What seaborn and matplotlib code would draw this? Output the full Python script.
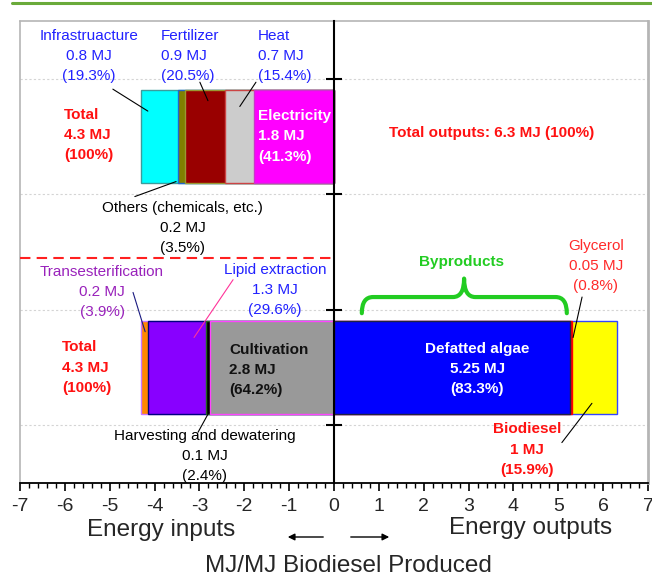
import numpy as np
import pandas as pd
import matplotlib
matplotlib.use("Agg")
import matplotlib.pyplot as plt
import seaborn as sns
from matplotlib.path import Path
from matplotlib.patches import PathPatch
from matplotlib.lines import Line2D
from matplotlib.ticker import MultipleLocator, FixedLocator
from matplotlib import font_manager

# ---------------- data ----------------
top_inputs = ["Electricity", "Heat", "Fertilizer", "Others (chemicals, etc.)", "Infrastruacture"]
top_values = [1.776, 0.662, 0.8815, 0.1505, 0.830]
top_mj = ["1.8 MJ", "0.7 MJ", "0.9 MJ", "0.2 MJ", "0.8 MJ"]
top_pcts = [41.3, 15.4, 20.5, 3.5, 19.3]

bottom_inputs = ["Cultivation", "Harvesting and dewatering", "Lipid extraction", "Transesterification"]
bottom_values = [2.76, 0.103, 1.273, 0.168]
bottom_mj = ["2.8 MJ", "0.1 MJ", "1.3 MJ", "0.2 MJ"]
bottom_pcts = [64.2, 2.4, 29.6, 3.9]

outputs = ["Defatted algae", "Glycerol", "Biodiesel"]
output_values = [5.25, 0.05, 1.0]
output_mj = ["5.25 MJ", "0.05 MJ", "1 MJ"]
output_pcts = [83.3, 0.8, 15.9]

total_input = 4.3
total_output = 6.3
x_ticks = [-7, -6, -5, -4, -3, -2, -1, 0, 1, 2, 3, 4, 5, 6, 7]

# ---------------- style ----------------
sns.set_theme(style="white")
names = {f.name for f in font_manager.fontManager.ttflist}
NARROW = "Liberation Sans Narrow" in names
plt.rcParams["font.family"] = ["Liberation Sans", "DejaVu Sans"]
plt.rcParams["axes.unicode_minus"] = False
axis_family = ["Liberation Sans Narrow", "Liberation Sans"] if NARROW else ["Liberation Sans"]
big = 20 if NARROW else 17.5
tick_fs = 16 if NARROW else 14

top_colors = ["#ff00ff", "#cccccc", "#990000", "#808000", "#00ffff"]
top_edges = ["#cc33cc", "#cc4444", "#999933", "#2266cc", "#3b9c9c"]
bot_colors = ["#999999", "#000000", "#8800ff", "#ff8800"]
bot_edges = ["#ff44ff", "#226622", "#000080", "#cc77ff"]
out_colors = ["#0000ff", "#ff0000", "#ffff00"]
out_edges = ["#222244", "#ff0000", "#3344ff"]

fig = plt.figure(figsize=(6.52, 5.8), dpi=100)
ax = fig.add_axes([20 / 652, 1 - 483 / 580, 628 / 652, 462 / 580])


def stacked(ypos, values, sign, colors, edges):
    cum = np.cumsum(values) * sign
    for i in reversed(range(len(values))):
        df = pd.DataFrame({"value": [cum[i]], "row": [ypos]})
        sns.barplot(data=df, x="value", y="row", orient="h", native_scale=True,
                    width=0.8, color=colors[i], edgecolor=edges[i], linewidth=1.0,
                    errorbar=None, saturation=1, ax=ax, zorder=3)


stacked(3.0, top_values, -1, top_colors, top_edges)
stacked(1.0, bottom_values, -1, bot_colors, bot_edges)
stacked(1.0, output_values, 1, out_colors, out_edges)

ax.set_xlim(-7, 7)
ax.set_ylim(0, 4)
ax.set_xlabel("")
ax.set_ylabel("")

# axes frame / spines
for s in ["top", "right"]:
    ax.spines[s].set_color("#b5b5b5")
    ax.spines[s].set_linewidth(1.2)
ax.spines["right"].set_linewidth(2.0)
ax.spines["bottom"].set_color("black")
ax.spines["bottom"].set_linewidth(1.3)
ax.spines["left"].set_position(("data", 0))
ax.spines["left"].set_color("black")
ax.spines["left"].set_linewidth(1.5)
ax.spines["left"].set_zorder(5)
ax.plot([0, 0], [0, 1], transform=ax.transAxes, color="#b5b5b5", lw=1.2, clip_on=False)

ax.yaxis.set_major_locator(FixedLocator([0.5, 1.5, 2.5, 3.5]))
ax.tick_params(axis="y", which="major", direction="inout", length=12, width=1.5,
               color="black", labelleft=False, left=True)
ax.yaxis.grid(True, linestyle=(0, (2, 2)), color="#d4d4d4", lw=0.8, zorder=0)
ax.xaxis.grid(False)
ax.set_axisbelow(True)

ax.xaxis.set_major_locator(FixedLocator(x_ticks))
ax.xaxis.set_minor_locator(MultipleLocator(0.2))
ax.set_xticklabels([str(t) for t in x_ticks], family=axis_family, fontsize=tick_fs)
ax.tick_params(axis="x", which="major", direction="out", length=6, width=1.2,
               color="black", pad=5, bottom=True)
ax.tick_params(axis="x", which="minor", direction="out", length=3.5, width=1.0,
               color="black", bottom=True)

# red dashed separator
ax.plot([-7, 0], [1.95, 1.95], color="#ff2020", lw=1.5, ls=(0, (5, 3)), zorder=4)

FS = 11
BLUE = "#2222ff"
RED = "#ff1111"
PURPLE = "#9922bb"


def lbl(x, y, s, color, ha="center", bold=False, fs=FS):
    ax.text(x, y, s, color=color, ha=ha, va="center", fontsize=fs,
            fontweight="bold" if bold else "normal", linespacing=1.55,
            multialignment=ha, zorder=6)


def leader(x0, y0, x1, y1, color="black"):
    ax.plot([x0, x1], [y0, y1], color=color, lw=0.8, zorder=7)


def block(name, mj, pct):
    return f"{name}\n{mj}\n({pct}%)"


# top row labels
lbl(-5.46, 3.70, block(top_inputs[4], top_mj[4], top_pcts[4]), BLUE)
lbl(-3.86, 3.70, block(top_inputs[2], top_mj[2], top_pcts[2]), BLUE, ha="left")
lbl(-1.69, 3.70, block(top_inputs[1], top_mj[1], top_pcts[1]), BLUE, ha="left")
lbl(-1.69, 3.00, block(top_inputs[0], top_mj[0], top_pcts[0]), "white", ha="left", bold=True)
lbl(-3.37, 2.21, block(top_inputs[3], top_mj[3], top_pcts[3]), "black")
lbl(-6.02, 3.01, f"Total\n{total_input} MJ\n(100%)", RED, ha="left", bold=True)
lbl(3.52, 3.03, f"Total outputs: {total_output} MJ (100%)", RED, bold=True)

leader(-4.93, 3.41, -4.15, 3.22)
leader(-2.99, 3.47, -2.81, 3.31)
leader(-1.74, 3.47, -2.10, 3.26)
leader(-4.44, 2.48, -3.52, 2.61)

# bottom row labels
lbl(-5.17, 1.65, block(bottom_inputs[3], bottom_mj[3], bottom_pcts[3]), PURPLE)
lbl(-1.32, 1.67, block(bottom_inputs[2], bottom_mj[2], bottom_pcts[2]), BLUE)
lbl(-2.34, 0.98, block(bottom_inputs[0], bottom_mj[0], bottom_pcts[0]), "#111111", ha="left", bold=True)
lbl(-2.88, 0.23, block(bottom_inputs[1], bottom_mj[1], bottom_pcts[1]), "black")
lbl(-6.06, 1.00, f"Total\n{total_input} MJ\n(100%)", RED, ha="left", bold=True)

leader(-4.48, 1.65, -4.21, 1.31, "#1a1a80")
leader(-2.25, 1.76, -3.12, 1.26, "#ff3399")
leader(-2.79, 0.61, -3.03, 0.44)

# outputs labels
lbl(3.19, 0.99, block(outputs[0], output_mj[0], output_pcts[0]), "white", bold=True)
lbl(5.84, 1.88, block(outputs[1], output_mj[1], output_pcts[1]), "#ff2a2a")
lbl(4.30, 0.29, block(outputs[2], output_mj[2], output_pcts[2]), RED, bold=True)
lbl(2.85, 1.91, "Byproducts", "#22cc22", bold=True)

leader(5.53, 1.61, 5.33, 1.26)
leader(5.08, 0.35, 5.75, 0.69)

# curly brace over byproducts
x0, x1, xc = 0.62, 5.19, 2.90
yb, ym, yt = 1.47, 1.61, 1.77
r = 0.25
verts = [(x0, yb), (x0, ym), (x0 + r, ym), (xc - r, ym), (xc, ym), (xc, yt),
         (xc, ym), (xc + r, ym), (x1 - r, ym), (x1, ym), (x1, yb)]
codes = [Path.MOVETO, Path.CURVE3, Path.CURVE3, Path.LINETO, Path.CURVE3, Path.CURVE3,
         Path.CURVE3, Path.CURVE3, Path.LINETO, Path.CURVE3, Path.CURVE3]
ax.add_patch(PathPatch(Path(verts, codes), fill=False, edgecolor="#22cc22", lw=3,
                       capstyle="round", joinstyle="round", zorder=6))

# bottom captions
fig.text(161 / 652, 1 - 530 / 580, "Energy inputs", ha="center", va="center",
         fontsize=big, family=axis_family)
fig.text(531 / 652, 1 - 528 / 580, "Energy outputs", ha="center", va="center",
         fontsize=big, family=axis_family)
fig.text(348 / 652, 1 - 566 / 580, "MJ/MJ Biodiesel Produced", ha="center", va="center",
         fontsize=big, family=axis_family)
ax.annotate("", xy=(285 / 652, 1 - 537 / 580), xytext=(326 / 652, 1 - 537 / 580),
            xycoords="figure fraction", textcoords="figure fraction",
            arrowprops=dict(arrowstyle="-|>", color="black", lw=1.0, mutation_scale=10))
ax.annotate("", xy=(392 / 652, 1 - 537 / 580), xytext=(348 / 652, 1 - 537 / 580),
            xycoords="figure fraction", textcoords="figure fraction",
            arrowprops=dict(arrowstyle="-|>", color="black", lw=1.0, mutation_scale=10))

# green rule at top of page
fig.add_artist(Line2D([12 / 652, 1.0], [1 - 2.5 / 580, 1 - 2.5 / 580], color="#6aaa3a", lw=2.2))

fig.savefig("out.png", dpi=100)
